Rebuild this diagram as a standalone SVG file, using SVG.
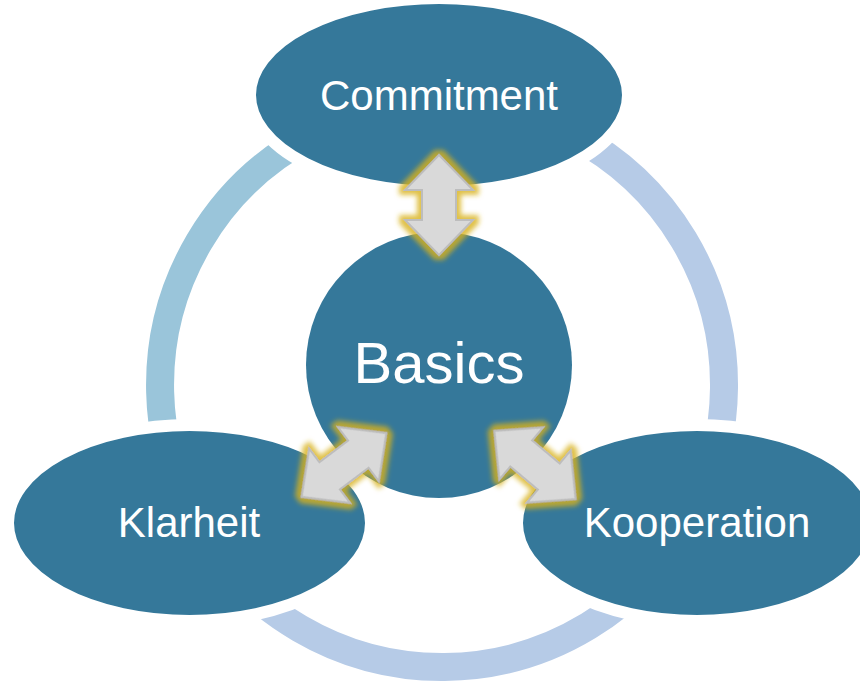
<svg xmlns="http://www.w3.org/2000/svg" width="860" height="681" viewBox="0 0 860 681">
  <style>
    .node { fill: #35789a; stroke: #ffffff; stroke-width: 12; }
    .core { fill: #35789a; stroke: none; }
    .label { fill: #ffffff; font-family: "Liberation Sans", Arial, sans-serif; text-anchor: middle; }
    .ring { fill: none; stroke-width: 28; }
    .arrow { fill: #d9d9d9; stroke: #bdbdbd; stroke-width: 2; stroke-linejoin: miter; filter: url(#glow); }
  </style>
  <defs>
    <filter id="glow" x="-40%" y="-40%" width="180%" height="180%">
      <feMorphology in="SourceAlpha" operator="dilate" radius="3.5" result="d"/>
      <feGaussianBlur in="d" stdDeviation="2.5" result="b"/>
      <feFlood flood-color="#d8b21c" flood-opacity="0.8"/>
      <feComposite in2="b" operator="in" result="g"/>
      <feMerge>
        <feMergeNode in="g"/>
        <feMergeNode in="SourceGraphic"/>
      </feMerge>
    </filter>
  </defs>

  <g id="ring">
    <path class="ring" stroke="#9ac5da" d="M195.4 521.7 A282 282 0 0 1 442 103"/>
    <path class="ring" stroke="#b6cbe7" d="M442 103 A282 282 0 0 1 691 517.4"/>
    <path class="ring" stroke="#b6cbe7" d="M691 517.4 A282 282 0 0 1 195.4 521.7"/>
  </g>

  <g id="node-commitment">
    <ellipse class="node" cx="439" cy="95" rx="189" ry="97"/>
    <text class="label" x="439" y="110" font-size="42">Commitment</text>
  </g>
  <g id="node-klarheit">
    <ellipse class="node" cx="189.5" cy="523" rx="181.5" ry="98"/>
    <text class="label" x="189" y="537" font-size="42">Klarheit</text>
  </g>
  <g id="node-kooperation">
    <ellipse class="node" cx="697" cy="523" rx="180" ry="98"/>
    <text class="label" x="697" y="537" font-size="42">Kooperation</text>
  </g>
  <g id="node-basics">
    <circle class="core" cx="439" cy="365" r="133"/>
    <text class="label" x="439" y="383" font-size="58">Basics</text>
  </g>

  <g id="connectors">
    <path class="arrow" transform="translate(439 205) rotate(90)" d="M-50 0 L-15 -34 L-15 -17 L15 -17 L15 -34 L50 0 L15 34 L15 17 L-15 17 L-15 34 Z"/>
    <path class="arrow" transform="translate(344 465) rotate(-37)" d="M-53 0 L-18 -34 L-18 -17 L18 -17 L18 -34 L53 0 L18 34 L18 17 L-18 17 L-18 34 Z"/>
    <path class="arrow" transform="translate(535 465) rotate(40)" d="M-53 0 L-18 -34 L-18 -17 L18 -17 L18 -34 L53 0 L18 34 L18 17 L-18 17 L-18 34 Z"/>
  </g>
</svg>
